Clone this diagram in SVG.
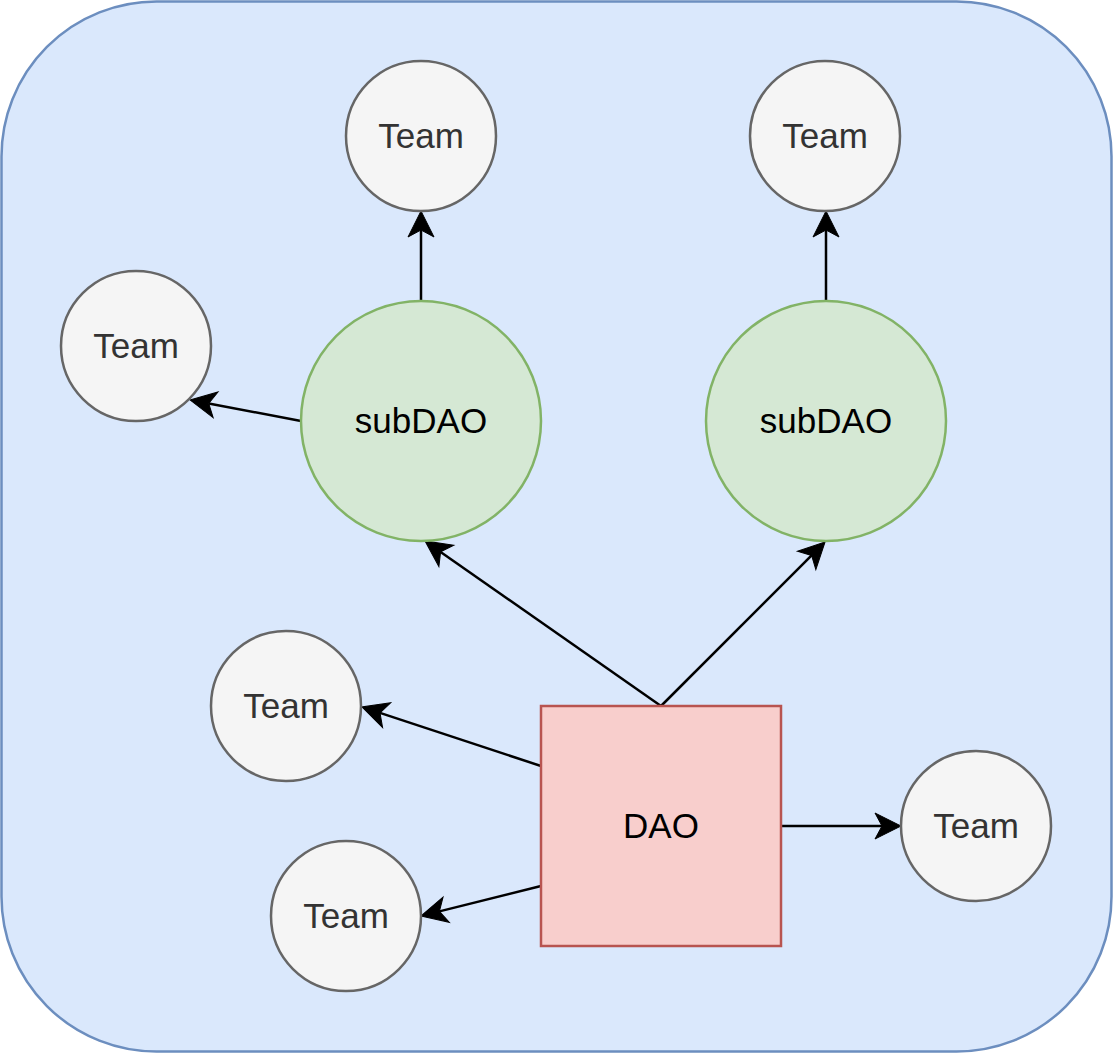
<svg xmlns="http://www.w3.org/2000/svg" width="1113" height="1053" viewBox="0 0 1113 1053">
<style>
.team circle{fill:#f5f5f5;stroke:#666666;stroke-width:2.5}
.team text{fill:#333333}
.sub circle{fill:#d5e8d4;stroke:#82b366;stroke-width:2.5}
text{font-family:"Liberation Sans",Arial,Helvetica,sans-serif;font-size:35px;text-anchor:middle}
#edges line{stroke:#000;stroke-width:2.5;fill:none;marker-end:url(#arr)}
</style>
<defs>
<marker id="arr" markerUnits="userSpaceOnUse" viewBox="-27 -14 28 28" refX="-19" refY="0" markerWidth="28" markerHeight="28" orient="auto" overflow="visible">
<path d="M0,0 L-26,-13 L-19,0 L-26,13 Z" fill="#000" stroke="#000" stroke-width="1"/>
</marker>
</defs>
<g id="container"><rect x="1.5" y="1.5" width="1110" height="1050" rx="155" ry="155" fill="#dae8fc" stroke="#6c8ebf" stroke-width="2.5"/></g>
<g id="edges">
<line x1="421" y1="301" x2="421" y2="230"/>
<line x1="826" y1="301" x2="826" y2="230"/>
<line x1="301" y1="421" x2="208.7" y2="403.5"/>
<line x1="661" y1="706" x2="440.6" y2="551.9"/>
<line x1="661" y1="706" x2="811.6" y2="555.4"/>
<line x1="541" y1="766" x2="380" y2="712.9"/>
<line x1="541" y1="886" x2="439.4" y2="911.4"/>
<line x1="781" y1="826" x2="882" y2="826"/>
</g>
<g id="team1" class="team"><circle cx="421" cy="136" r="75"/><text x="421" y="147.5">Team</text></g>
<g id="team2" class="team"><circle cx="825" cy="136" r="75"/><text x="825" y="147.5">Team</text></g>
<g id="team3" class="team"><circle cx="136" cy="346" r="75"/><text x="136" y="357.5">Team</text></g>
<g id="team4" class="team"><circle cx="286" cy="706" r="75"/><text x="286" y="717.5">Team</text></g>
<g id="team5" class="team"><circle cx="346" cy="916" r="75"/><text x="346" y="927.5">Team</text></g>
<g id="team6" class="team"><circle cx="976" cy="826" r="75"/><text x="976" y="837.5">Team</text></g>
<g id="subdao1" class="sub"><circle cx="421" cy="421" r="120"/><text x="421" y="432.5">subDAO</text></g>
<g id="subdao2" class="sub"><circle cx="826" cy="421" r="120"/><text x="826" y="432.5">subDAO</text></g>
<g id="dao"><rect x="541" y="706" width="240" height="240" fill="#f8cecc" stroke="#b85450" stroke-width="2.5"/><text x="661" y="837.5">DAO</text></g>
</svg>
